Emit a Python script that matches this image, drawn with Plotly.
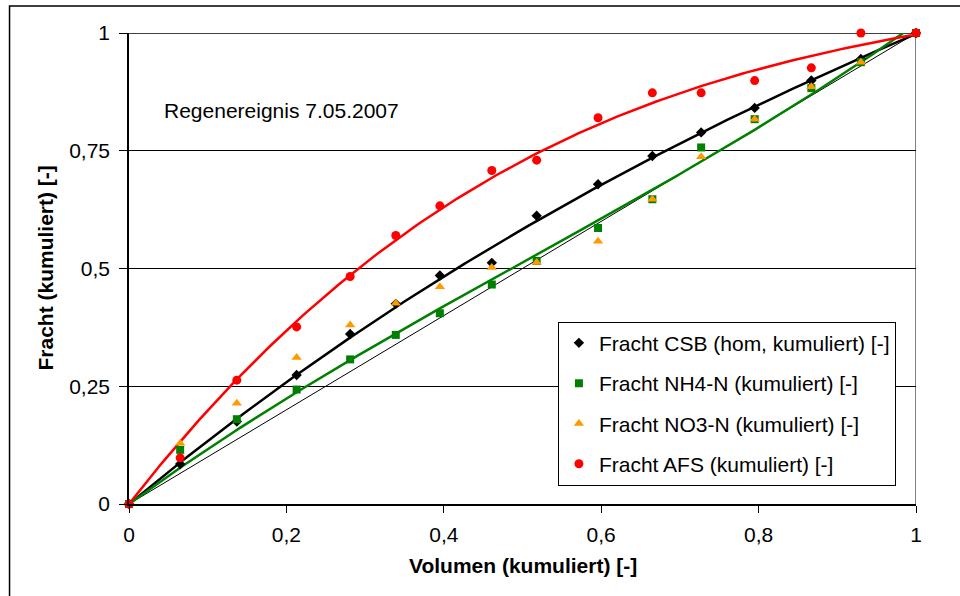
import numpy as np
import plotly.graph_objects as go

# Cumulative volume fraction (x) and cumulative load fractions (y)
volumen = [0, 0.065, 0.137, 0.213, 0.281, 0.339, 0.395, 0.461, 0.518, 0.596,
           0.665, 0.727, 0.795, 0.867, 0.930, 1.0]
csb = [0, 0.085, 0.175, 0.274, 0.361, 0.425, 0.485, 0.512, 0.612, 0.679,
       0.739, 0.789, 0.841, 0.899, 0.945, 1.0]
nh4 = [0, 0.115, 0.180, 0.243, 0.307, 0.359, 0.405, 0.466, 0.516, 0.586,
       0.647, 0.757, 0.817, 0.883, 0.938, 1.0]
no3 = [0, 0.129, 0.214, 0.311, 0.380, 0.426, 0.461, 0.502, 0.513, 0.558,
       0.647, 0.737, 0.817, 0.886, 0.938, 1.0]
afs = [0, 0.098, 0.263, 0.376, 0.483, 0.570, 0.633, 0.708, 0.730, 0.820,
       0.873, 0.873, 0.899, 0.926, 1.0, 1.0]

x_ticks = [0, 0.2, 0.4, 0.6, 0.8, 1.0]
x_labels = ["0", "0,2", "0,4", "0,6", "0,8", "1"]
y_ticks = [0, 0.25, 0.5, 0.75, 1.0]
y_labels = ["0", "0,25", "0,5", "0,75", "1"]

FONT = "Arial, 'Liberation Sans', sans-serif"
FS = 21

series = [
    ("Fracht CSB (hom, kumuliert) [-]", csb, "#000000", "diamond", 8, True),
    ("Fracht NH4-N (kumuliert) [-]", nh4, "#008000", "square", 8, True),
    ("Fracht NO3-N (kumuliert) [-]", no3, "#FF9900", "triangle-up", 9, False),
    ("Fracht AFS (kumuliert) [-]", afs, "#FF0000", "circle", 9, True),
]


def trend_through_origin(x, y, order=3):
    """Least-squares polynomial with zero intercept."""
    x = np.asarray(x, float)
    A = np.column_stack([x ** k for k in range(1, order + 1)])
    c, *_ = np.linalg.lstsq(A, np.asarray(y, float), rcond=None)
    return lambda t: sum(ck * t ** (k + 1) for k, ck in enumerate(c))


fig = go.Figure()

# 1:1 reference line
fig.add_trace(go.Scatter(x=[0, 1], y=[0, 1], mode="lines",
                         line=dict(color="black", width=1), showlegend=False,
                         hoverinfo="skip"))

# polynomial trend lines (3rd order, through the origin)
xs = np.linspace(0, 1, 201)
for name, y, color, sym, size, trend in series:
    if trend:
        f = trend_through_origin(volumen, y)
        fig.add_trace(go.Scatter(x=xs, y=f(xs), mode="lines",
                                 line=dict(color=color, width=2.5),
                                 showlegend=False, hoverinfo="skip"))

for i, (name, y, color, sym, size, trend) in enumerate(series):
    fig.add_trace(go.Scatter(x=volumen, y=y, mode="markers", name=name,
                             legendgroup=f"g{i}",
                             marker=dict(color=color, symbol=sym, size=size),
                             cliponaxis=False))

fig.update_layout(
    width=960, height=596,
    margin=dict(l=129, r=44, t=33, b=92),
    paper_bgcolor="white", plot_bgcolor="white",
    font=dict(family=FONT, size=FS, color="black"),
    showlegend=True,
    legend=dict(x=0.545, y=0.387, xanchor="left", yanchor="top",
                bgcolor="white", bordercolor="black", borderwidth=1,
                font=dict(size=FS), traceorder="grouped", tracegroupgap=10),
    xaxis=dict(range=[0, 1], tickvals=x_ticks, ticktext=x_labels,
               showgrid=False, zeroline=False, showline=True,
               linecolor="black", linewidth=1.5, ticks="outside", ticklen=7,
               tickcolor="black", tickwidth=1, ticklabelstandoff=4),
    yaxis=dict(range=[0, 1], tickvals=y_ticks, ticktext=y_labels,
               showgrid=True, gridcolor="black", gridwidth=1, zeroline=False,
               showline=True, linecolor="black", linewidth=1.5,
               ticks="outside", ticklen=8, tickcolor="black", tickwidth=1,
               ticklabelstandoff=5),
    shapes=[
        # plot area frame: top and right edges
        dict(type="line", xref="x", yref="y", x0=0, x1=1, y0=1, y1=1,
             line=dict(color="#404040", width=2), layer="below"),
        dict(type="line", xref="x", yref="y", x0=1, x1=1, y0=0, y1=1,
             line=dict(color="#808080", width=2), layer="below"),
        # chart frame
        dict(type="rect", xref="paper", yref="paper",
             x0=-0.1518, x1=1.3, y0=-0.4, y1=1.0573,
             line=dict(color="black", width=1.5), layer="below"),
    ],
    annotations=[
        dict(text="Regenereignis 7.05.2007", xref="paper", yref="paper",
             x=0.0416, y=0.8365, xanchor="left", yanchor="middle",
             showarrow=False, font=dict(size=FS)),
        dict(text="<b>Fracht (kumuliert) [-]</b>", xref="paper", yref="paper",
             x=-0.1067, y=0.5, textangle=-90, xanchor="center",
             yanchor="middle", showarrow=False, font=dict(size=FS)),
        dict(text="<b>Volumen (kumuliert) [-]</b>", xref="paper",
             yref="paper", x=0.5, y=-0.1316, xanchor="center",
             yanchor="middle", showarrow=False, font=dict(size=FS)),
    ],
)

fig.write_html("out.html")
